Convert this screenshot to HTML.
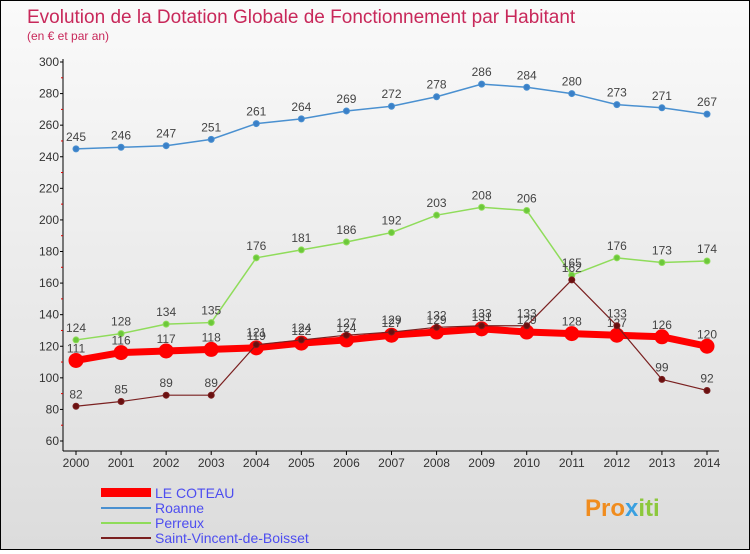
<!DOCTYPE html>
<html><head><meta charset="utf-8"><style>
body{margin:0;width:750px;height:550px;overflow:hidden;font-family:"Liberation Sans",sans-serif}
#wrap{position:relative;width:748px;height:548px;border:1px solid #000;background:linear-gradient(#fafafa,#dcdcdc)}
</style></head><body>
<div id="wrap">
<svg id="chart" width="748" height="548" xmlns="http://www.w3.org/2000/svg">
<text x="26" y="22" font-size="19" fill="#c8285a">Evolution de la Dotation Globale de Fonctionnement par Habitant</text>
<text x="26" y="39" font-size="12" fill="#c8285a">(en € et par an)</text>
<g id="axes"></g><g id="series"></g>
<g>
<rect x="100" y="487" width="50" height="9" fill="#f00"/>
<text x="154" y="497" font-size="14" fill="#4d4df0">LE COTEAU</text>
<line x1="100" y1="507" x2="150" y2="507" stroke="#4a90d0" stroke-width="2"/>
<text x="154" y="512" font-size="14" fill="#4d4df0">Roanne</text>
<line x1="100" y1="522" x2="150" y2="522" stroke="#8fdc5a" stroke-width="2"/>
<text x="154" y="527" font-size="14" fill="#4d4df0">Perreux</text>
<line x1="100" y1="537" x2="150" y2="537" stroke="#7a2020" stroke-width="2"/>
<text x="154" y="542" font-size="14" fill="#4d4df0">Saint-Vincent-de-Boisset</text>
</g>
<text x="584" y="515" font-size="24" font-weight="bold" fill="#f08c1e">Pro<tspan fill="#3aa0e0">x</tspan><tspan fill="#8cc83c">iti</tspan></text>
</svg></div>
<script>
const years=[2000,2001,2002,2003,2004,2005,2006,2007,2008,2009,2010,2011,2012,2013,2014];
const coteau=[111,116,117,118,119,122,124,127,129,131,129,128,127,126,120];
const roanne=[245,246,247,251,261,264,269,272,278,286,284,280,273,271,267];
const perreux=[124,128,134,135,176,181,186,192,203,208,206,165,176,173,174];
const stvincent=[82,85,89,89,121,124,127,129,132,133,133,162,133,99,92];
const yTicks=[60,80,100,120,140,160,180,200,220,240,260,280,300];
const NS="http://www.w3.org/2000/svg";
const xs=i=>75+i*(631/(years.length-1));
const ys=v=>440-(v-60)*(379/240);
function mk(tag,attrs,parent){const e=document.createElementNS(NS,tag);for(const k in attrs)e.setAttribute(k,attrs[k]);parent.appendChild(e);return e;}
const ax=document.getElementById('axes'),sg=document.getElementById('series');
let l=mk('line',{x1:62,y1:58,x2:62,y2:450,stroke:'#000'},ax);


l=mk('line',{x1:62,y1:450,x2:718,y2:450,stroke:'#000'},ax);


yTicks.forEach(v=>{const t=mk('text',{x:58,y:ys(v)+4,'font-size':12,'text-anchor':'end',fill:'#333'},ax);t.textContent=v;


mk('line',{x1:59,y1:ys(v),x2:62,y2:ys(v),stroke:'#000'},ax);
if(v<300)mk('line',{x1:60,y1:ys(v+10),x2:62,y2:ys(v+10),stroke:'#d00'},ax);});
years.forEach((y,i)=>{const t=mk('text',{x:xs(i),y:466,'font-size':12,'text-anchor':'middle',fill:'#333'},ax);t.textContent=y;


mk('line',{x1:xs(i),y1:450,x2:xs(i),y2:454,stroke:'#000'},ax);});
function draw(name,data,color,w,r,fill){
const g=mk('g',{},sg);


const p=mk('polyline',{points:data.map((v,i)=>xs(i)+','+ys(v)).join(' '),fill:'none',stroke:color,'stroke-width':w,'stroke-linejoin':'round'},g);


data.forEach((v,i)=>{const c=mk('circle',{cx:xs(i),cy:ys(v),r:r,fill:fill,stroke:color,'stroke-width':1},g);


const t=mk('text',{x:xs(i),y:ys(v)-8,'font-size':12,'text-anchor':'middle',fill:'#444'},g);t.textContent=v;

});}
draw('roanne',roanne,'#4a90d0',1.5,3,'#3a80c8');
draw('perreux',perreux,'#8fdc5a',1.5,3,'#6cc83a');
draw('le-coteau',coteau,'#f00',7,7,'#f00');
draw('saint-vincent',stvincent,'#7a2020',1.2,3,'#6a1010');
</script></body></html>
